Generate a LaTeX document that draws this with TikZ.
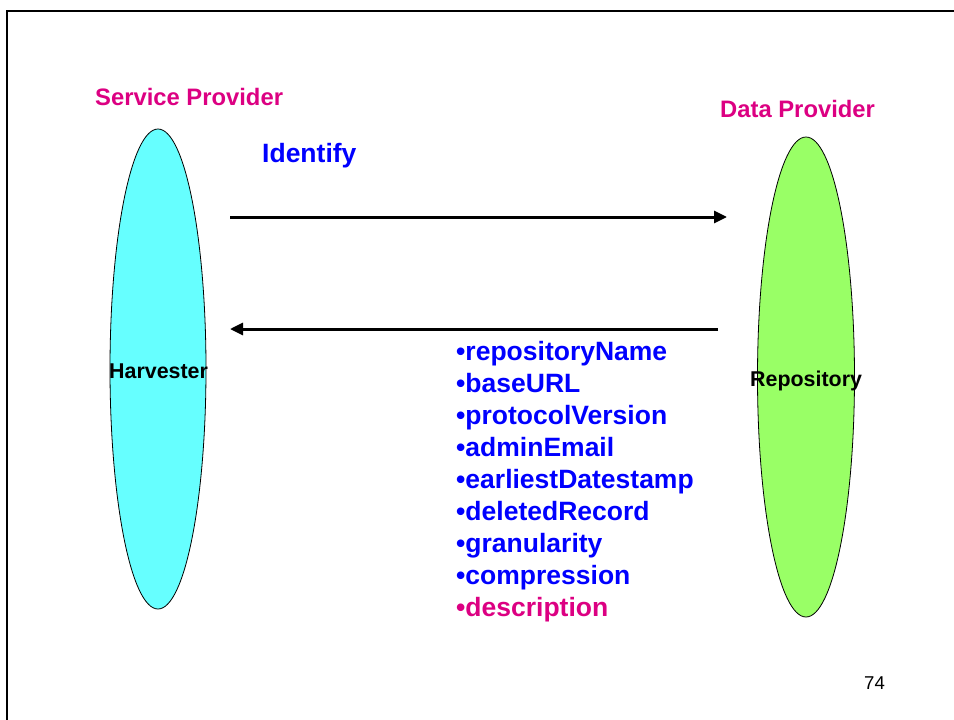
\documentclass[tikz,border=0pt]{standalone}
\usepackage{fontspec}
\setmainfont{Liberation Sans}
\usetikzlibrary{arrows.meta}
\definecolor{pinkt}{RGB}{220,0,130}
\definecolor{bluet}{RGB}{0,0,255}
\definecolor{cyanfill}{RGB}{102,255,255}
\definecolor{greenfill}{RGB}{153,255,102}
\tikzset{
  lbl/.style={anchor=base west, inner sep=0pt, font=\fontsize{23.8}{28}\selectfont\bfseries},
  item/.style={anchor=base west, inner sep=0pt, text=bluet, font=\fontsize{26.5}{32}\selectfont\bfseries},
  oval/.style={draw=black, line width=0.8pt},
  flow/.style={line width=3pt, -{Triangle[length=13pt,width=12pt]}},
  small/.style={anchor=base west, inner sep=0pt, font=\fontsize{21.4}{25}\selectfont\bfseries}
}
\begin{document}
\begin{tikzpicture}[x=1pt,y=-1pt]
\useasboundingbox (0,0) rectangle (954,720);
% frame
\draw[line width=2.5pt] (7,722) -- (7,11) -- (956,11);
% ellipses
\filldraw[oval, fill=cyanfill] (158,369) ellipse [x radius=48, y radius=240];
\filldraw[oval, fill=greenfill] (806,377) ellipse [x radius=48.5, y radius=240];
% titles
\node[lbl, text=pinkt] (sp) at (95,105) {Service Provider};
\node[lbl, text=pinkt] (dp) at (720,117) {Data Provider};
\node[item] (id) at (262,162) {Identify};
\node[small] (harv) at (109,378) {Harvester};
\node[small] (repo) at (750,386) {Repository};
% arrows
\coordinate (a1s) at (230,217);
\coordinate (a1e) at (727,217);
\coordinate (a2s) at (718,329);
\coordinate (a2e) at (230,329);
\draw[flow] (a1s) -- (a1e);
\draw[flow] (a2s) -- (a2e);
% list
\node[item] (l1) at (456,360) {•repositoryName};
\node[item] (l2) at (456,392) {•baseURL};
\node[item] (l3) at (456,424) {•protocolVersion};
\node[item] (l4) at (456,456) {•adminEmail};
\node[item] (l5) at (456,488) {•earliestDatestamp};
\node[item] (l6) at (456,520) {•deletedRecord};
\node[item] (l7) at (456,552) {•granularity};
\node[item] (l8) at (456,584) {•compression};
\node[item, text=pinkt] (l9) at (456,616) {•description};
% page number
\node[anchor=base west, inner sep=0pt, font=\fontsize{18.6}{22}\selectfont] (pg) at (864,689) {74};
\end{tikzpicture}
\end{document}
